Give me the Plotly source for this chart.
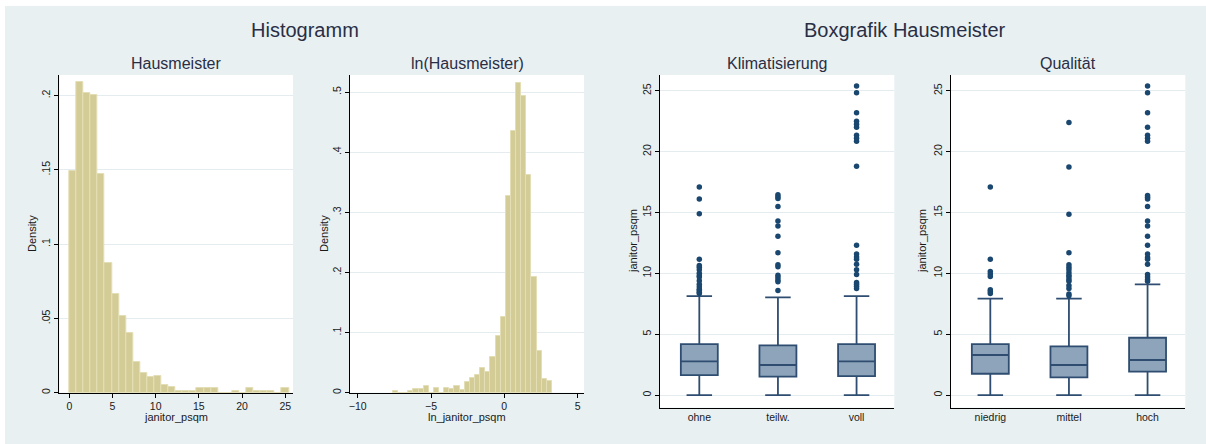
import plotly.graph_objects as go

# ---- histogram data: densities per bin ----
hm_bin_start = 0.0
hm_bin_width = 0.82
hm_density = [0.149, 0.209, 0.2015, 0.2003, 0.1472, 0.0871, 0.0662, 0.0516,
              0.040, 0.0207, 0.013, 0.0106, 0.0112, 0.0054, 0.0038, 0.0011,
              0.0011, 0.0011, 0.003, 0.003, 0.003, 0.0, 0.0, 0.0011, 0.0,
              0.003, 0.0011, 0.0011, 0.0011, 0.0, 0.003]

ln_bin_start = -7.6
ln_bin_width = 0.35
ln_density = [0.003, 0.0, 0.0, 0.003, 0.006, 0.006, 0.0105, 0.0, 0.008, 0.0,
              0.008, 0.006, 0.0105, 0.005, 0.018, 0.024, 0.030, 0.041, 0.034,
              0.059, 0.095, 0.126, 0.328, 0.435, 0.516, 0.493, 0.362, 0.193,
              0.070, 0.022, 0.0195]

hm_ticks = [0, 5, 10, 15, 20, 25]
ln_ticks = [-10, -5, 0, 5]
hm_yticks = [0, 0.05, 0.1, 0.15, 0.2]
hm_yticklabels = ["0", ".05", ".1", ".15", ".2"]
ln_yticks = [0, 0.1, 0.2, 0.3, 0.4, 0.5]
ln_yticklabels = ["0", ".1", ".2", ".3", ".4", ".5"]

# ---- box plot data: janitor_psqm by air conditioning ----
klima_cats = ["ohne", "teilw.", "voll"]
klima_lower = [0.0, 0.0, 0.0]
klima_q1 = [1.64, 1.51, 1.56]
klima_median = [2.77, 2.47, 2.77]
klima_q3 = [4.19, 4.08, 4.19]
klima_upper = [8.13, 8.03, 8.13]
klima_out_ohne = [17.1, 16.1, 14.9, 11.15, 10.65, 10.5, 10.3, 10.0, 9.8, 9.7,
                  9.4, 9.1, 8.9, 8.7, 8.6, 8.45, 8.35]
klima_out_teilw = [16.45, 16.3, 16.15, 15.5, 14.3, 13.9, 13.05, 11.7, 10.7,
                   10.55, 9.85, 9.65, 9.45, 9.3, 8.6]
klima_out_voll = [25.4, 24.85, 23.2, 22.5, 22.25, 22.0, 21.35, 21.1, 20.85,
                  18.8, 12.3, 11.6, 11.35, 11.15, 10.75, 10.3, 9.9, 9.25, 9.1,
                  8.95, 8.75]

# ---- box plot data: janitor_psqm by quality ----
qual_cats = ["niedrig", "mittel", "hoch"]
qual_lower = [0.0, 0.0, 0.0]
qual_q1 = [1.75, 1.45, 1.92]
qual_median = [3.29, 2.47, 2.88]
qual_q3 = [4.19, 4.0, 4.71]
qual_upper = [7.92, 7.92, 9.09]
qual_out_niedrig = [17.1, 11.15, 10.15, 9.95, 9.75, 8.65, 8.5, 8.35]
qual_out_mittel = [22.4, 18.75, 14.85, 11.7, 10.7, 10.5, 10.3, 10.05, 9.85,
                   9.7, 9.5, 9.35, 9.0, 8.75, 8.3, 8.15]
qual_out_hoch = [25.4, 24.85, 23.2, 22.0, 21.35, 21.1, 20.85, 16.4, 16.25,
                 16.1, 15.5, 14.3, 13.9, 13.05, 12.3, 11.6, 11.3, 11.15, 10.75,
                 9.9, 9.7, 9.5, 9.35]

box_yticks = [0, 5, 10, 15, 20, 25]

# ---- styling ----
W, H = 1206, 444
FONT = "Liberation Sans, Arial, sans-serif"
BG = "#E8F0F2"
GRID = "#E4ECEF"
BAR_FILL = "#D4CC96"
BAR_LINE = "#E4DEB6"
BOX_FILL = "#8EA4BA"
BOX_LINE = "#2E4D70"
DOT = "#1A476F"
TITLE_COL = "#2A2E44"
TICK_COL = "#1A1A1A"


def px_x(p):
    return p / W


def px_y(p):
    return 1 - p / H


def centers(start, width, n):
    return [start + width * (i + 0.5) for i in range(n)]


fig = go.Figure()

fig.add_trace(go.Bar(
    x=centers(hm_bin_start, hm_bin_width, len(hm_density)), y=hm_density,
    width=hm_bin_width, marker=dict(color=BAR_FILL, line=dict(color=BAR_LINE, width=1)),
    xaxis="x", yaxis="y", showlegend=False))

fig.add_trace(go.Bar(
    x=centers(ln_bin_start, ln_bin_width, len(ln_density)), y=ln_density,
    width=ln_bin_width, marker=dict(color=BAR_FILL, line=dict(color=BAR_LINE, width=1)),
    xaxis="x2", yaxis="y2", showlegend=False))


def add_boxes(cats, lower, q1, med, q3, upper, outliers, xa, ya):
    fig.add_trace(go.Box(
        x=cats, lowerfence=lower, q1=q1, median=med, q3=q3, upperfence=upper,
        boxpoints=False, width=0.47, whiskerwidth=0.69,
        fillcolor=BOX_FILL, line=dict(color=BOX_LINE, width=1.8),
        xaxis=xa, yaxis=ya, showlegend=False))
    ox, oy = [], []
    for c, vals in zip(cats, outliers):
        ox += [c] * len(vals)
        oy += vals
    fig.add_trace(go.Scatter(
        x=ox, y=oy, mode="markers",
        marker=dict(color=DOT, size=5.5, line=dict(width=0)),
        xaxis=xa, yaxis=ya, showlegend=False))


add_boxes(klima_cats, klima_lower, klima_q1, klima_median, klima_q3, klima_upper,
          [klima_out_ohne, klima_out_teilw, klima_out_voll], "x3", "y3")
add_boxes(qual_cats, qual_lower, qual_q1, qual_median, qual_q3, qual_upper,
          [qual_out_niedrig, qual_out_mittel, qual_out_hoch], "x4", "y4")

axis_common = dict(showline=True, linecolor="black", linewidth=1, zeroline=False,
                   tickfont=dict(family=FONT, size=10.5, color=TICK_COL),
                   tickcolor="black", ticklen=4, automargin=False, fixedrange=True)

hist_dom_y = [px_y(392.7), px_y(75)]
box_dom_y = [px_y(407.7), px_y(75)]

layout_axes = dict(
    xaxis=dict(axis_common, domain=[px_x(59.3), px_x(293)], anchor="y",
               range=[-1.16, 25.9], tickvals=hm_ticks, ticks="outside", showgrid=False),
    yaxis=dict(axis_common, domain=hist_dom_y, anchor="x", range=[0, 0.2138],
               tickvals=hm_yticks, ticktext=hm_yticklabels, ticks="outside",
               tickangle=-90, showgrid=True, gridcolor=GRID, gridwidth=1),
    xaxis2=dict(axis_common, domain=[px_x(350), px_x(584)], anchor="y2",
                range=[-10.53, 5.44], tickvals=ln_ticks, ticks="outside", showgrid=False),
    yaxis2=dict(axis_common, domain=hist_dom_y, anchor="x2", range=[0, 0.5286],
                tickvals=ln_yticks, ticktext=ln_yticklabels, ticks="outside",
                tickangle=-90, showgrid=True, gridcolor=GRID, gridwidth=1),
    xaxis3=dict(axis_common, domain=[px_x(660), px_x(894.3)], anchor="y3",
                type="category", categoryorder="array", categoryarray=klima_cats,
                range=[-0.5, 2.48], ticks="", showgrid=False),
    yaxis3=dict(axis_common, domain=box_dom_y, anchor="x3", range=[-1.04, 26.3],
                tickvals=box_yticks, ticks="outside", tickangle=-90,
                showgrid=True, gridcolor=GRID, gridwidth=1),
    xaxis4=dict(axis_common, domain=[px_x(951), px_x(1185.3)], anchor="y4",
                type="category", categoryorder="array", categoryarray=qual_cats,
                range=[-0.5, 2.48], ticks="", showgrid=False),
    yaxis4=dict(axis_common, domain=box_dom_y, anchor="x4", range=[-1.04, 26.3],
                tickvals=box_yticks, ticks="outside", tickangle=-90,
                showgrid=True, gridcolor=GRID, gridwidth=1),
)


def label(text, x, y, size, color=TITLE_COL, angle=0):
    return dict(text=text, x=px_x(x), y=px_y(y), xref="paper", yref="paper",
                xanchor="center", yanchor="middle", showarrow=False, textangle=angle,
                font=dict(family=FONT, size=size, color=color))


annotations = [
    label("Histogramm", 305, 30, 20),
    label("Boxgrafik Hausmeister", 905, 30, 20),
    label("Hausmeister", 176, 63, 16),
    label("ln(Hausmeister)", 467, 63, 16),
    label("Klimatisierung", 777, 63, 16),
    label("Qualität", 1068, 63, 16),
    label("janitor_psqm", 176, 416.5, 11, TICK_COL),
    label("ln_janitor_psqm", 467, 416.5, 11, TICK_COL),
    label("Density", 32, 234, 11, TICK_COL, -90),
    label("Density", 324, 234, 11, TICK_COL, -90),
    label("janitor_psqm", 633, 241, 11, TICK_COL, -90),
    label("janitor_psqm", 922, 241, 11, TICK_COL, -90),
]

shapes = [
    dict(type="rect", xref="paper", yref="paper", x0=0, x1=1, y0=px_y(6), y1=1,
         fillcolor="white", line=dict(width=0), layer="above"),
    dict(type="rect", xref="paper", yref="paper", x0=0, x1=px_x(5), y0=0, y1=1,
         fillcolor="white", line=dict(width=0), layer="above"),
]

fig.update_layout(
    width=W, height=H, template="none",
    margin=dict(l=0, r=0, t=0, b=0, pad=0),
    paper_bgcolor=BG, plot_bgcolor="white",
    font=dict(family=FONT, color=TICK_COL),
    bargap=0, showlegend=False,
    annotations=annotations, shapes=shapes,
    **layout_axes,
)

fig.write_html("out.html", config={"displayModeBar": False})
